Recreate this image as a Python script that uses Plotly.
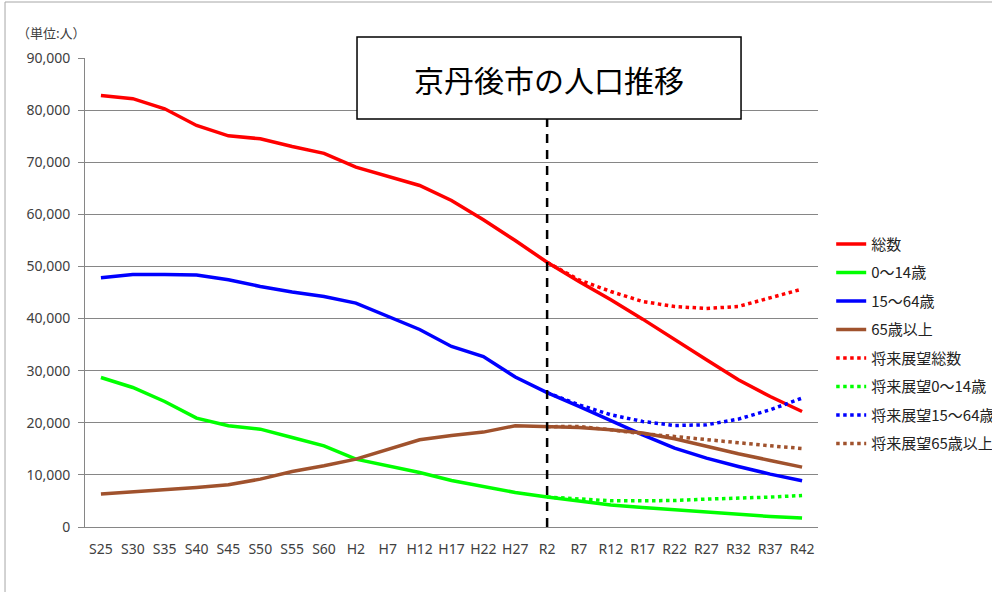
import plotly.graph_objects as go

categories = ["S25", "S30", "S35", "S40", "S45", "S50", "S55", "S60",
              "H2", "H7", "H12", "H17", "H22", "H27",
              "R2", "R7", "R12", "R17", "R22", "R27", "R32", "R37", "R42"]

total = [82800, 82200, 80250, 77050, 75070, 74500, 73020, 71700,
         69060, 67260, 65540, 62660, 58950, 54980,
         50800, 47110, 43600, 39890, 35920, 32090, 28250, 25050, 22170]
age0_14 = [28690, 26770, 24080, 20890, 19420, 18780, 17180, 15580,
           13030, 11740, 10460, 8920, 7770, 6620,
           5750, 4900, 4200, 3740, 3300, 2790, 2340, 2020, 1710]
age15_64 = [47820, 48460, 48460, 48340, 47440, 46160, 45080, 44240,
            42960, 40400, 37900, 34640, 32720, 28770,
            25800, 23130, 20380, 17690, 15130, 13210, 11610, 10150, 8870]
age65 = [6310, 6700, 7140, 7580, 8100, 9190, 10650, 11740,
         13030, 14810, 16730, 17560, 18210, 19420,
         19250, 19100, 18650, 18020, 16930, 15450, 14050, 12770, 11490]

future_cats = ["R2", "R7", "R12", "R17", "R22", "R27", "R32", "R37", "R42"]
fut_total = [50800, 47430, 45190, 43270, 42320, 41930, 42320, 43920, 45650]
fut_0_14 = [5750, 5350, 5030, 5030, 5090, 5350, 5470, 5740, 6050]
fut_15_64 = [25800, 23450, 21530, 20250, 19480, 19610, 20700, 22490, 24730]
fut_65 = [19250, 19290, 18650, 17890, 17370, 16730, 16220, 15580, 15070]

RED, GREEN, BLUE, BROWN = "#FF0000", "#00FF00", "#0000FF", "#A0522D"
JFONT = "Noto Sans CJK JP"
NFONT = "Noto Sans"

fig = go.Figure()
solid = [("総数", total, RED), ("0～14歳", age0_14, GREEN),
         ("15～64歳", age15_64, BLUE), ("65歳以上", age65, BROWN)]
dotted = [("将来展望総数", fut_total, RED), ("将来展望0～14歳", fut_0_14, GREEN),
          ("将来展望15～64歳", fut_15_64, BLUE), ("将来展望65歳以上", fut_65, BROWN)]

for i, (name, vals, col) in enumerate(solid):
    fig.add_trace(go.Scatter(x=categories, y=vals, name=name, mode="lines",
                             line=dict(color=col, width=3.5), legendgroup=f"g{i}"))
for i, (name, vals, col) in enumerate(dotted):
    fig.add_trace(go.Scatter(x=future_cats, y=vals, name=name, mode="lines",
                             line=dict(color=col, width=3.5, dash="3.5px,3.5px"),
                             legendgroup=f"h{i}"))

# dashed divider at R2
fig.add_shape(type="line", xref="x", yref="y", x0="R2", x1="R2", y0=0, y1=90000,
              line=dict(color="black", width=2.5, dash="9px,7px"), layer="above")
# title box
fig.add_shape(type="rect", xref="paper", yref="paper",
              x0=0.3711, x1=0.8950, y0=0.8699, y1=1.0448,
              line=dict(color="black", width=1.5), fillcolor="white", layer="above")
fig.add_annotation(text="京丹後市の人口推移", xref="paper", yref="paper",
                   x=0.633, y=1.006, showarrow=False,
                   font=dict(family=JFONT, size=30, color="black"))
# unit label
fig.add_annotation(text="（単位:人）", xref="paper", yref="paper",
                   x=-0.0955, y=1.0554, xanchor="left", yanchor="middle",
                   showarrow=False, font=dict(family=JFONT, size=13, color="#404040"))
# chart border
fig.add_shape(type="rect", xref="paper", yref="paper",
              x0=-0.1091, x1=1.4, y0=-0.3, y1=1.1194,
              line=dict(color="#A6A6A6", width=1), fillcolor="rgba(0,0,0,0)", layer="below")

fig.update_layout(
    width=992, height=592,
    margin=dict(l=85, r=174, t=58, b=65, autoexpand=False),
    plot_bgcolor="white", paper_bgcolor="white",
    font=dict(family=NFONT, size=14, color="#404040"),
    legend=dict(x=1.018, y=0.638, xanchor="left", yanchor="top",
                traceorder="grouped", tracegroupgap=6,
                font=dict(family=JFONT, size=15, color="#222222"),
                bgcolor="rgba(0,0,0,0)"),
    xaxis=dict(type="category", categoryorder="array", categoryarray=categories,
               range=[-0.5, 22.5], showline=True, linecolor="#868686", linewidth=1,
               showgrid=False, ticks="", ticklabelstandoff=9,
               tickfont=dict(family=NFONT, size=14, color="#404040")),
    yaxis=dict(range=[0, 90000], dtick=10000, tickformat=",",
               showgrid=True, gridcolor="#868686", gridwidth=1,
               showline=True, linecolor="#868686", linewidth=1,
               ticks="outside", ticklen=6, tickcolor="#868686",
               ticklabelstandoff=5,
               zeroline=False, tickfont=dict(family=NFONT, size=14, color="#404040")),
)

fig.write_html("out.html")
